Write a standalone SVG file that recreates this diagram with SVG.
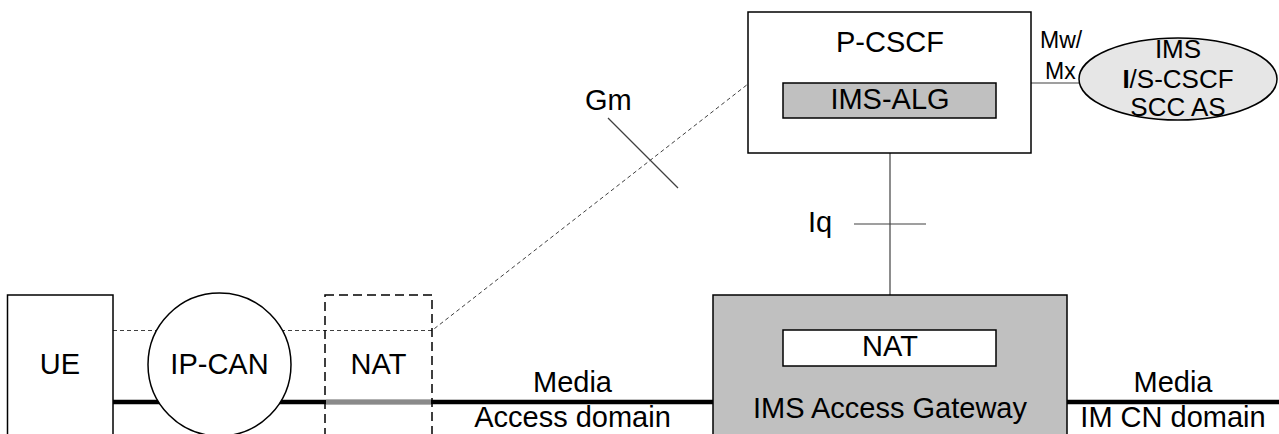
<svg xmlns="http://www.w3.org/2000/svg" width="1279" height="434" viewBox="0 0 1279 434">
<style>
  text { font-family: "Liberation Sans", Arial, sans-serif; fill: #000; }
  .lbl { font-size: 29px; text-anchor: middle; }
  .sm { font-size: 23px; }
  .ell { font-size: 26px; text-anchor: middle; }
  .box { fill: #fff; stroke: #000; stroke-width: 1.5; }
  .grey { fill: #c0c0c0; stroke: #000; stroke-width: 1.5; }
  .thin { stroke: #404040; stroke-width: 1.2; fill: none; }
  .sig { stroke: #404040; stroke-width: 1; fill: none; stroke-dasharray: 4 3; }
  .media { stroke: #000; stroke-width: 4.5; fill: none; }
</style>
<rect width="1279" height="434" fill="#fff"/>

<g id="connectors">
  <!-- media bearer -->
  <line class="media" x1="113" y1="402" x2="713" y2="402" stroke-linecap="round"/>
  <line x1="326" y1="402" x2="431" y2="402" stroke="#8a8a8a" stroke-width="4.5"/>
  <line class="media" x1="1067" y1="402" x2="1279" y2="402" stroke-linecap="round"/>
  <!-- Gm signalling -->
  <polyline class="sig" points="113,330.5 432,330.5 748,84"/>
  <line class="thin" x1="608" y1="118" x2="678" y2="188"/>
  <text x="585" y="110" style="font-size:29px">Gm</text>
  <!-- Iq -->
  <line class="thin" x1="890" y1="118" x2="890" y2="295"/>
  <line class="thin" x1="854" y1="224" x2="926" y2="224"/>
  <text x="808" y="232" style="font-size:29px">Iq</text>
  <!-- Mw/Mx -->
  <line class="thin" x1="1031" y1="83" x2="1080" y2="83"/>
  <text class="sm" x="1040" y="48">Mw/</text>
  <text class="sm" x="1045" y="79">Mx</text>
  <!-- media labels -->
  <text class="lbl" x="572.5" y="392">Media</text>
  <text class="lbl" x="572.5" y="427">Access domain</text>
  <text class="lbl" x="1173" y="392">Media</text>
  <text class="lbl" x="1173" y="427">IM CN domain</text>
</g>

<g id="ue">
  <rect class="box" x="7.5" y="295" width="105.5" height="160"/>
  <text class="lbl" x="60" y="374">UE</text>
</g>

<g id="ipcan">
  <circle class="box" cx="219.5" cy="364.5" r="71.5"/>
  <text class="lbl" x="219.5" y="374">IP-CAN</text>
</g>

<g id="nat-access">
  <rect x="325" y="295" width="107" height="160" fill="none" stroke="#000" stroke-width="1.5" stroke-dasharray="9 5"/>
  <text class="lbl" x="378.5" y="374">NAT</text>
</g>

<g id="pcscf">
  <rect class="box" x="748" y="12" width="283" height="141"/>
  <text class="lbl" x="890" y="52">P-CSCF</text>
  <g id="ims-alg">
    <rect class="grey" x="783" y="83" width="213" height="35"/>
    <text class="lbl" x="890" y="109">IMS-ALG</text>
  </g>
</g>

<g id="ims-core">
  <ellipse cx="1178" cy="79" rx="99" ry="41" fill="#e6e6e6" stroke="#000" stroke-width="1.5"/>
  <text class="ell" x="1178" y="58">IMS</text>
  <text class="ell" x="1178" y="88"><tspan font-weight="bold">I</tspan>/S-CSCF</text>
  <text class="ell" x="1178" y="116">SCC AS</text>
</g>

<g id="ims-agw">
  <rect class="grey" x="713" y="295" width="354" height="160"/>
  <g id="nat-agw">
    <rect class="box" x="783" y="330" width="213" height="36"/>
    <text class="lbl" x="890" y="356">NAT</text>
  </g>
  <text class="lbl" x="890" y="418">IMS Access Gateway</text>
</g>
</svg>
